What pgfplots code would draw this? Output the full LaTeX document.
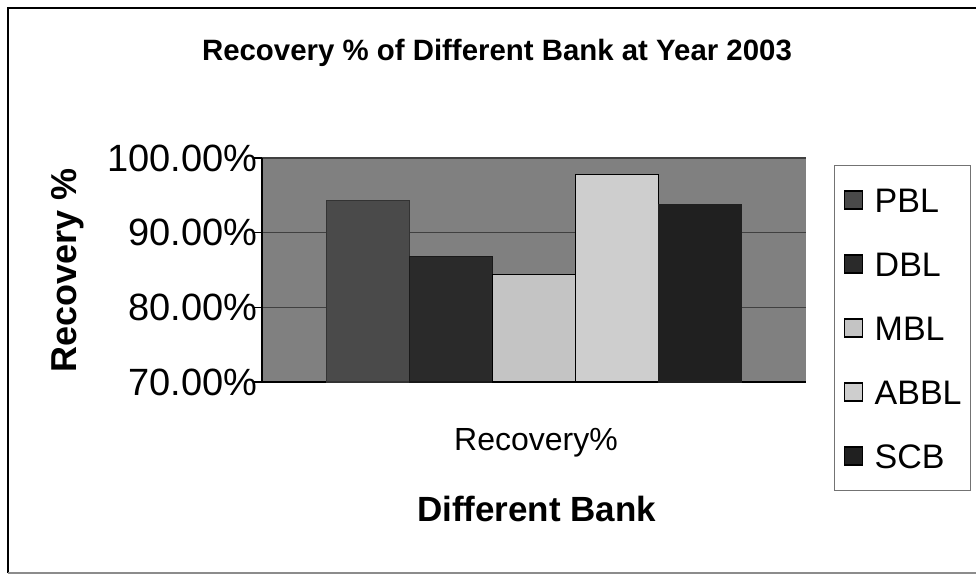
\documentclass[border=0pt]{standalone}
\usepackage{fontspec}
\setmainfont{Liberation Sans}
\usepackage{pgfplots}
\pgfplotsset{compat=1.18}
\definecolor{bgc}{HTML}{808080}
\definecolor{cPBL}{HTML}{4A4A4A}
\definecolor{cDBL}{HTML}{2A2A2A}
\definecolor{cMBL}{HTML}{C4C4C4}
\definecolor{cABBL}{HTML}{CECECE}
\definecolor{cSCB}{HTML}{202020}
\begin{document}
\begin{tikzpicture}[x=1pt,y=1pt]
\useasboundingbox (0,0) rectangle (488,287);
\draw[line width=1pt] (4,0.5) -- (4,283) -- (488,283);
\draw[line width=0.6pt, black!45] (4,0.5) -- (488,0.5);
\begin{axis}[
  at={(131pt,96pt)}, anchor=south west,
  scale only axis, width=272pt, height=112pt,
  xmin=0, xmax=544, ymin=70, ymax=100,
  ybar, bar width=83,
  axis x line*=bottom, axis y line*=left,
  axis line style={-, black, line width=0.8pt},
  axis background/.style={fill=bgc},
  ytick={70,80,90,100},
  yticklabels={70.00\%,80.00\%,90.00\%,100.00\%},
  yticklabel style={font=\fontsize{19}{19}\selectfont, inner xsep=0pt, xshift=2pt},
  ytick style={black, line width=0.6pt},
  tick align=outside, major tick length=4pt,
  xtick={272}, xticklabels={Recovery\%},
  xtick style={draw=none},
  xticklabel style={font=\fontsize{16}{16}\selectfont, inner sep=0pt, anchor=north, xshift=1pt, yshift=-19pt},
  ymajorgrids, grid style={black!75, line width=0.6pt},
  ylabel={\bfseries Recovery \%},
  ylabel style={at={(axis description cs:-0.357,0.5)}, anchor=center, font=\fontsize{18}{18}\selectfont},
  xlabel={\bfseries Different Bank},
  xlabel style={at={(axis description cs:0.505,-0.567)}, anchor=center, font=\fontsize{17.5}{17.5}\selectfont},
  every axis title shift=0pt,
  title={\bfseries Recovery \% of Different Bank at Year 2003},
  title style={at={(axis description cs:0.432,1.47)}, anchor=center, font=\fontsize{14.7}{14.7}\selectfont},
  legend image code/.code={\draw[#1, draw=black, line width=0.6pt] (0pt,-4.5pt) rectangle (9pt,4.5pt);},
  legend style={at={(axis description cs:1.0515,0.969)}, anchor=north west,
    draw=black!55, line width=0.5pt, fill=white,
    font=\fontsize{17}{17}\selectfont,
    inner xsep=4.5pt, inner ysep=11pt, row sep=19.5pt, column sep=6pt,
    nodes={inner sep=0pt, text height=12.5pt, text depth=0pt},
    cells={anchor=west}},
]
\addplot[bar shift=0pt, fill=cPBL, draw=black!80, line width=0.6pt] coordinates {(106,94.3)};
\addplot[bar shift=0pt, fill=cDBL, draw=black!90, line width=0.6pt] coordinates {(189,86.8)};
\addplot[bar shift=0pt, fill=cMBL, draw=black, line width=0.6pt] coordinates {(272,84.4)};
\addplot[bar shift=0pt, fill=cABBL, draw=black, line width=0.8pt] coordinates {(355,97.8)};
\addplot[bar shift=0pt, fill=cSCB, draw=cSCB, line width=0.6pt] coordinates {(438,93.7)};
\legend{PBL,DBL,MBL,ABBL,SCB}
\end{axis}
\end{tikzpicture}
\end{document}
